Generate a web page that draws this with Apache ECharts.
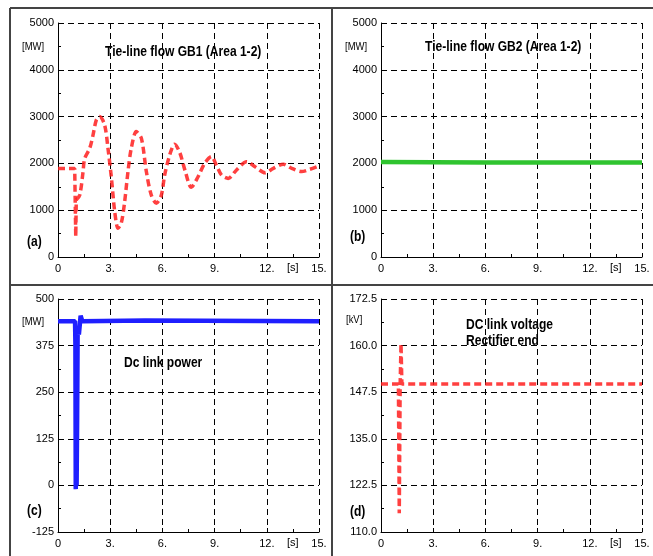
<!DOCTYPE html>
<html>
<head>
<meta charset="utf-8">
<script src="https://cdn.jsdelivr.net/npm/echarts@6/dist/echarts.min.js"></script>
<style>
  html, body { margin: 0; padding: 0; background: #fff; }
  #chart { width: 653px; height: 556px; }
</style>
</head>
<body>
<div id="chart"></div>
<script>
// time axis ticks (shared by all four panels)
const xTicks = [0, 3, 6, 9, 12, 15];

// (a) tie-line flow GB1 [MW]: pre-fault step + swing
const gb1Step = [[0, 1890], [0.96, 1890], [1.0, 1890], [1.02, 434], [1.05, 1220]];
const gb1Swing = [
  [1.05, 1220], [1.25, 1325], [1.44, 1820], [1.53, 2100], [1.82, 2320], [2.01, 2600],
  [2.2, 2925], [2.39, 3000], [2.68, 2820], [2.87, 2330], [3.07, 1690], [3.26, 970],
  [3.45, 615], [3.64, 730], [3.83, 1180], [4.02, 1820], [4.21, 2320], [4.5, 2680],
  [4.79, 2540], [5.08, 1820], [5.36, 1325], [5.65, 1150], [5.94, 1325], [6.13, 1750],
  [6.42, 2180], [6.7, 2410], [7.0, 2230], [7.3, 1850], [7.66, 1490], [8.05, 1715],
  [8.43, 2000], [8.82, 2145], [9.1, 1965], [9.4, 1750], [9.78, 1680], [10.26, 1860],
  [10.84, 2035], [11.32, 1930], [11.9, 1800], [12.38, 1895], [12.95, 1980],
  [13.43, 1895], [14.0, 1825], [14.48, 1875], [15.0, 1945]
];

// (b) tie-line flow GB2 [MW]
const gb2 = [[0, 2030], [3, 2025], [6, 2020], [9, 2020], [12, 2020], [15, 2020]];

// (c) dc link power [MW]
const dcPower = [
  [0, 440], [0.98, 440], [1.0, 380], [1.02, -10], [1.05, 300], [1.07, 0],
  [1.1, 180], [1.13, 420], [1.2, 405], [1.3, 455], [1.4, 440], [5, 442], [15, 440]
];

// (d) dc link voltage, rectifier end [kV]
const dcVolt = [
  [0, 149.7], [1.0, 149.7], [1.05, 115], [1.1, 149], [1.15, 160.5],
  [1.2, 149.7], [15, 149.7]
];

const yTicksA = { min: 0, max: 5000, interval: 1000 };
const yTicksC = { min: -125, max: 500, interval: 125 };
const yTicksD = { min: 110, max: 172.5, interval: 12.5 };

const FONT = "'Liberation Sans', Arial, sans-serif";

const grids = [
  { left: 58, top: 23, width: 261, height: 234 },
  { left: 381, top: 23, width: 261, height: 234 },
  { left: 58, top: 299, width: 261, height: 233 },
  { left: 381, top: 299, width: 261, height: 233 }
];

const dashed = { show: true, lineStyle: { color: '#000', type: [6, 4], width: 1 } };

function xAxis(i) {
  return {
    type: 'value', gridIndex: i, min: xTicks[0], max: xTicks[xTicks.length - 1], interval: 3,
    axisLine: { show: true, onZero: false, lineStyle: { color: '#000', width: 1 } },
    axisTick: { show: true, inside: true, length: 4, lineStyle: { color: '#000' } },
    minorTick: { show: true, splitNumber: 2, length: 3, lineStyle: { color: '#000' } },
    splitLine: dashed,
    axisLabel: {
      color: '#000', fontFamily: FONT, fontSize: 11, margin: 6,
      formatter: v => (v === 0 ? '0' : v + '.')
    }
  };
}

function yAxis(i, t, fmt) {
  return {
    type: 'value', gridIndex: i, min: t.min, max: t.max, interval: t.interval,
    axisLine: { show: true, onZero: false, lineStyle: { color: '#000', width: 1 } },
    axisTick: { show: true, inside: true, length: 4, lineStyle: { color: '#000' } },
    minorTick: { show: true, splitNumber: 2, length: 3, lineStyle: { color: '#000' } },
    splitLine: dashed,
    axisLabel: { color: '#000', fontFamily: FONT, fontSize: 11, margin: 4, formatter: fmt }
  };
}

function line(i, data, color, width, type, smooth) {
  return {
    type: 'line', xAxisIndex: i, yAxisIndex: i, data: data, showSymbol: false,
    smooth: smooth || false, animation: false,
    lineStyle: { color: color, width: width, type: type }
  };
}

// narrow-looking text: regular font squeezed horizontally
function txt(x, y, s, opts, sx) {
  return {
    type: 'text', x: x, y: y, z: 100, scaleX: sx || 1,
    style: Object.assign({
      text: s, fill: '#000', font: '11px ' + FONT, align: 'left', verticalAlign: 'top'
    }, opts || {})
  };
}

function rule(x1, y1, x2, y2) {
  return {
    type: 'line', z: 100, shape: { x1: x1, y1: y1, x2: x2, y2: y2 },
    style: { stroke: '#444', lineWidth: 2 }
  };
}

const bold = { font: 'bold 14px ' + FONT };
const SQ = 0.86;

const option = {
  backgroundColor: '#fff',
  animation: false,
  grid: grids,
  xAxis: [xAxis(0), xAxis(1), xAxis(2), xAxis(3)],
  yAxis: [
    yAxis(0, yTicksA, v => String(v)),
    yAxis(1, yTicksA, v => String(v)),
    yAxis(2, yTicksC, v => String(v)),
    yAxis(3, yTicksD, v => v.toFixed(1))
  ],
  series: [
    line(0, gb1Step, 'rgba(255,30,30,0.85)', 3.5, [7, 4], false),
    line(0, gb1Swing, 'rgba(255,30,30,0.85)', 3.5, [7, 4], 0.3),
    line(1, gb2, '#2fc42f', 4.5, 'solid', false),
    line(2, dcPower, '#1f1fff', 4.5, 'solid', false),
    line(3, dcVolt, 'rgba(255,30,30,0.85)', 3.5, [7, 4], false)
  ],
  graphic: [
    // panel frames
    rule(10, 8, 653, 8),
    rule(10, 8, 10, 556),
    rule(332, 8, 332, 556),
    rule(10, 285, 653, 285),
    // units
    txt(22, 41, '[MW]', null, SQ),
    txt(345, 41, '[MW]', null, SQ),
    txt(22, 316, '[MW]', null, SQ),
    txt(346, 314, '[kV]', null, SQ),
    txt(287, 262, '[s]'), txt(610, 262, '[s]'),
    txt(287, 537, '[s]'), txt(610, 537, '[s]'),
    // titles
    txt(105, 45, 'Tie-line flow GB1 (Area 1-2)', bold, SQ),
    txt(425, 40, 'Tie-line flow GB2 (Area 1-2)', bold, SQ),
    txt(124, 356, 'Dc link power', bold, SQ),
    txt(466, 318, 'DC link voltage', bold, SQ),
    txt(466, 334, 'Rectifier end', bold, SQ),
    // panel letters
    txt(27, 235, '(a)', bold, SQ),
    txt(350, 230, '(b)', bold, SQ),
    txt(27, 504, '(c)', bold, SQ),
    txt(350, 505, '(d)', bold, SQ)
  ]
};

echarts.init(document.getElementById('chart')).setOption(option);
</script>
</body>
</html>
